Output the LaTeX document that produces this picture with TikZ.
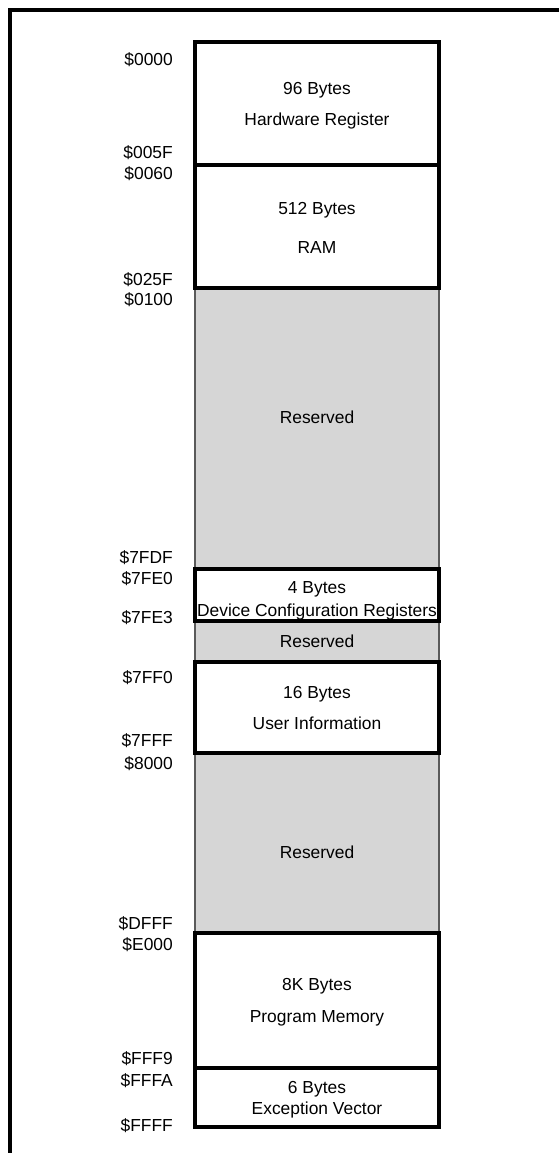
\documentclass[tikz,border=0pt]{standalone}
\usepackage{fontspec}
\setmainfont{Liberation Sans}
\definecolor{resgray}{RGB}{214,214,214}
\definecolor{resedge}{RGB}{90,90,90}
\begin{document}
\begin{tikzpicture}[x=1pt,y=-1pt,
  reservedbox/.style={fill=resgray, draw=resedge, line width=1.2pt},
  membox/.style={draw=black, line width=4pt},
  txt/.style={font=\fontsize{17.4}{20}\selectfont, inner sep=0pt, text height=12.4pt, text depth=0pt},
  addr/.style={txt, anchor=east}]
\useasboundingbox (0,0) rectangle (559,1153);

% outer frame
\draw[line width=4pt] (10,1160) -- (10,10.5) -- (565,10.5);

% reserved areas
\draw[reservedbox] (195,288) rectangle (439,569);
\draw[reservedbox] (195,621) rectangle (439,662);
\draw[reservedbox] (195,753) rectangle (439,933);

% used memory blocks
\draw[membox] (195,42) rectangle (439,165);
\draw[membox] (195,165) rectangle (439,288);
\draw[membox] (195,569) rectangle (439,621);
\draw[membox] (195,662) rectangle (439,753);
\draw[membox] (195,933) rectangle (439,1068);
\draw[membox] (195,1068) rectangle (439,1127);

% block contents
\node[txt] (hw1) at (317,88) {96 Bytes};
\node[txt] (hw2) at (317,119) {Hardware Register};
\node[txt] (ram1) at (317,208) {512 Bytes};
\node[txt] (ram2) at (317,247) {RAM};
\node[txt] (res1) at (317,417) {Reserved};
\node[txt] (dcr1) at (317,587) {4 Bytes};
\node[txt] (dcr2) at (317,610) {Device Configuration Registers};
\node[txt] (res2) at (317,641) {Reserved};
\node[txt] (ui1) at (317,692) {16 Bytes};
\node[txt] (ui2) at (317,723) {User Information};
\node[txt] (res3) at (317,852) {Reserved};
\node[txt] (pm1) at (317,984) {8K Bytes};
\node[txt] (pm2) at (317,1016) {Program Memory};
\node[txt] (ev1) at (317,1087) {6 Bytes};
\node[txt] (ev2) at (317,1108) {Exception Vector};

% addresses
\node[addr] (a0000) at (173,59) {\$0000};
\node[addr] (a005F) at (173,152) {\$005F};
\node[addr] (a0060) at (173,173) {\$0060};
\node[addr] (a025F) at (173,279) {\$025F};
\node[addr] (a0100) at (173,299) {\$0100};
\node[addr] (a7FDF) at (173,557) {\$7FDF};
\node[addr] (a7FE0) at (173,578) {\$7FE0};
\node[addr] (a7FE3) at (173,617) {\$7FE3};
\node[addr] (a7FF0) at (173,677) {\$7FF0};
\node[addr] (a7FFF) at (173,740) {\$7FFF};
\node[addr] (a8000) at (173,763) {\$8000};
\node[addr] (aDFFF) at (173,923) {\$DFFF};
\node[addr] (aE000) at (173,944) {\$E000};
\node[addr] (aFFF9) at (173,1058) {\$FFF9};
\node[addr] (aFFFA) at (173,1080) {\$FFFA};
\node[addr] (aFFFF) at (173,1125) {\$FFFF};
\end{tikzpicture}
\end{document}
